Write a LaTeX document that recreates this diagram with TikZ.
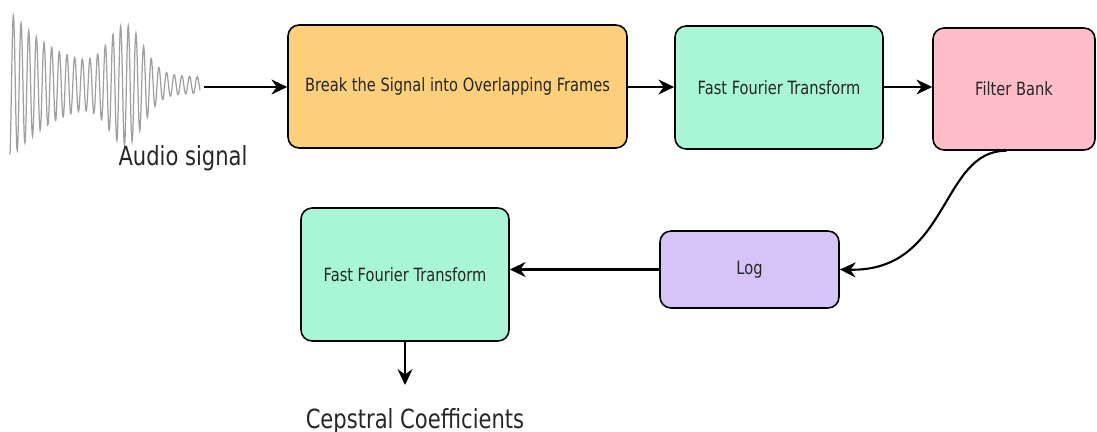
\documentclass[tikz,border=0pt]{standalone}
\usepackage{fontspec}
\newfontfamily\boxfont[FakeStretch=0.8]{DejaVu Sans}
\usetikzlibrary{arrows.meta}
\definecolor{framecol}{HTML}{FBCF7B}
\definecolor{fftcol}{HTML}{A9F6D6}
\definecolor{bankcol}{HTML}{FEBEC8}
\definecolor{logcol}{HTML}{D6C4F6}
\tikzset{
  block/.style={
    draw,
    line width=0.9pt,
    rounded corners=0.22cm,
    minimum height=2.46cm,
    inner sep=0.055cm,
    text=black!85,
    font=\boxfont\fontsize{10.4}{12}\selectfont
  },
  flow/.style={
    line width=1.2pt,
    -{Stealth[length=9pt,width=8.5pt,inset=3pt]}
  },
  caption/.style={
    text=black!85,
    font=\boxfont\fontsize{15}{17}\selectfont
  }
}
\begin{document}
\begin{tikzpicture}[x=0.02cm,y=-0.02cm]
    \useasboundingbox (0,0) rectangle (1097,432);
    % audio waveform
    \draw[gray!75,line width=0.7pt] plot[domain=10:200,samples=600,smooth]
        (\x,{85+(68*exp(-(\x-10)/55)+46*exp(-((\x-126)/24)^2)+6)*sin(47*\x)});
    \coordinate (wave) at (204,87);
    \node[caption] (audio) at (183,158) {Audio signal};
    % processing chain
    \node[block,fill=framecol,minimum width=6.78cm] (frames) at (457.5,86.5) {Break the Signal into Overlapping Frames};
    \node[block,fill=fftcol,minimum width=4.16cm] (fft) at (779,87.5) {Fast Fourier Transform};
    \node[block,fill=bankcol,minimum width=3.24cm,minimum height=2.44cm] (bank) at (1014,89) {Filter Bank};
    \node[block,fill=logcol,minimum width=3.58cm,minimum height=1.54cm] (log) at (749.5,269.5) {Log};
    \node[block,fill=fftcol,minimum width=4.16cm,minimum height=2.66cm] (ifft) at (405,274.5) {Fast Fourier Transform};
    \coordinate (out) at (405,385);
    \node[caption] (cep) at (415,421) {Cepstral Coefficients};
    % connections
    \draw[flow] (wave) -- (frames.west |- wave);
    \draw[flow] (frames.east |- wave) -- (fft.west |- wave);
    \draw[flow] (fft.east |- wave) -- (bank.west |- wave);
    \draw[flow] ([xshift=-0.15cm]bank.south) .. controls (940,150) and (950,272) .. (log.east);
    \draw[flow] (log.west) -- (log.west -| ifft.east);
    \draw[flow] (ifft.south) -- (out);
\end{tikzpicture}
\end{document}
